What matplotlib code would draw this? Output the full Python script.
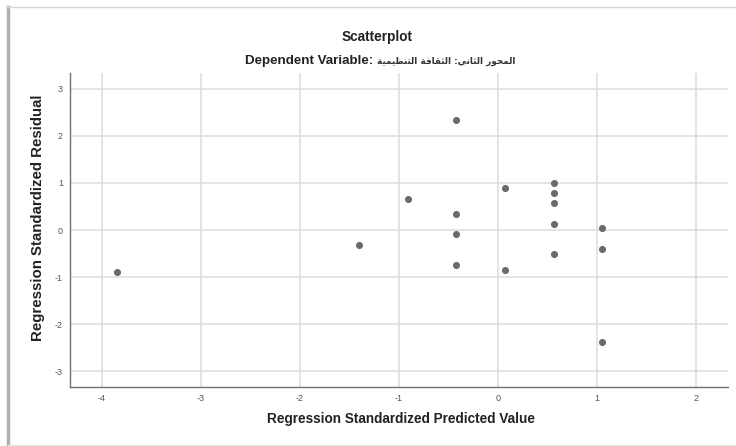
import matplotlib
matplotlib.use('Agg')
import matplotlib.pyplot as plt
from matplotlib.lines import Line2D

plt.rcParams['font.family'] = ['Liberation Sans', 'DejaVu Sans']
plt.rcParams['axes.unicode_minus'] = False

# values
pred_value = [-3.85, -1.40, -0.91, -0.42, -0.42, -0.42, -0.42,
              0.07, 0.07, 0.56, 0.56, 0.56, 0.56, 0.56,
              1.05, 1.05, 1.05]
std_resid = [-0.89, -0.31, 0.67, 2.33, 0.35, -0.09, -0.74,
             0.90, -0.85, 1.01, 0.79, 0.57, 0.13, -0.52,
             0.04, -0.40, -2.38]
x_ticks = [-4, -3, -2, -1, 0, 1, 2]
y_ticks = [-3, -2, -1, 0, 1, 2, 3]
dep_var = 'المحور الثاني: الثقافة التنظيمية'

# minimal arabic shaping (matplotlib draws arabic left to right, unjoined)
FORMS = {
    'ا': (0xFE8D, 0xFE8E, None, None),
    'ل': (0xFEDD, 0xFEDE, 0xFEDF, 0xFEE0),
    'م': (0xFEE1, 0xFEE2, 0xFEE3, 0xFEE4),
    'ح': (0xFEA1, 0xFEA2, 0xFEA3, 0xFEA4),
    'و': (0xFEED, 0xFEEE, None, None),
    'ر': (0xFEAD, 0xFEAE, None, None),
    'ث': (0xFE99, 0xFE9A, 0xFE9B, 0xFE9C),
    'ن': (0xFEE5, 0xFEE6, 0xFEE7, 0xFEE8),
    'ي': (0xFEF1, 0xFEF2, 0xFEF3, 0xFEF4),
    'ق': (0xFED5, 0xFED6, 0xFED7, 0xFED8),
    'ف': (0xFED1, 0xFED2, 0xFED3, 0xFED4),
    'ة': (0xFE93, 0xFE94, None, None),
    'ت': (0xFE95, 0xFE96, 0xFE97, 0xFE98),
    'ظ': (0xFEC5, 0xFEC6, 0xFEC7, 0xFEC8),
}


def shape(text):
    out = []
    for i, ch in enumerate(text):
        if ch not in FORMS:
            out.append(ch)
            continue
        prev = text[i - 1] if i > 0 else ''
        nxt = text[i + 1] if i + 1 < len(text) else ''
        join_prev = prev in FORMS and FORMS[prev][2] is not None
        join_next = nxt in FORMS and FORMS[ch][2] is not None
        iso, fin, ini, med = FORMS[ch]
        if join_prev and join_next:
            code = med
        elif join_prev:
            code = fin
        elif join_next:
            code = ini
        else:
            code = iso
        out.append(chr(code))
    return ''.join(out)[::-1]


fig = plt.figure(figsize=(7.36, 4.46), dpi=100)
ax = fig.add_axes([0.0951, 0.1323, 0.8940, 0.7040])

ax.scatter(pred_value, std_resid, s=26, color='#6b6b6b', zorder=3, linewidths=0)

ax.set_xlim(-4.32, 2.32)
ax.set_ylim(-3.34, 3.34)
ax.set_xticks(x_ticks)
ax.set_yticks(y_ticks)
ax.set_xticklabels([str(t) for t in x_ticks])
ax.set_yticklabels([str(t) for t in y_ticks])
ax.grid(True, color='#dcdcdc', linewidth=1.1)
ax.set_axisbelow(True)
ax.tick_params(length=0, labelsize=6.5, colors='#555555', pad=5)
for side in ['top', 'right']:
    ax.spines[side].set_visible(False)
for side in ['left', 'bottom']:
    ax.spines[side].set_color('#707070')
    ax.spines[side].set_linewidth(1.0)

ax.set_xlabel('Regression Standardized Predicted Value', fontsize=9.8,
              fontweight='bold', color='#222222')
ax.set_ylabel('Regression Standardized Residual', fontsize=10.8,
              fontweight='bold', color='#222222')
ax.xaxis.set_label_coords(0.503, -0.102)
ax.xaxis.label.set_verticalalignment('center')
ax.yaxis.set_label_coords(-0.0486, 0.538)
ax.yaxis.label.set_verticalalignment('center')

fig.text(0.5125, 0.917, 'Scatterplot', ha='center', va='center', fontsize=9.8,
         fontweight='bold', color='#222222')
fig.text(0.507, 0.863, 'Dependent Variable:', ha='right', va='center', fontsize=9.6,
         fontweight='bold', color='#222222')
fig.text(0.5125, 0.863, shape(dep_var), ha='left', va='center', fontsize=6.4,
         fontweight='bold', color='#333333', family=['DejaVu Sans'])

# frame of the pasted chart
fig.add_artist(Line2D([0.011, 0.011], [0.0, 0.984], transform=fig.transFigure,
                      color='#b0b0b0', linewidth=2.5))
fig.add_artist(Line2D([0.009, 1.0], [0.984, 0.984], transform=fig.transFigure,
                      color='#d6d6d6', linewidth=1.0))
fig.add_artist(Line2D([0.011, 1.0], [0.003, 0.003], transform=fig.transFigure,
                      color='#e6e6e6', linewidth=1.0))

fig.savefig('out.png', dpi=100)
